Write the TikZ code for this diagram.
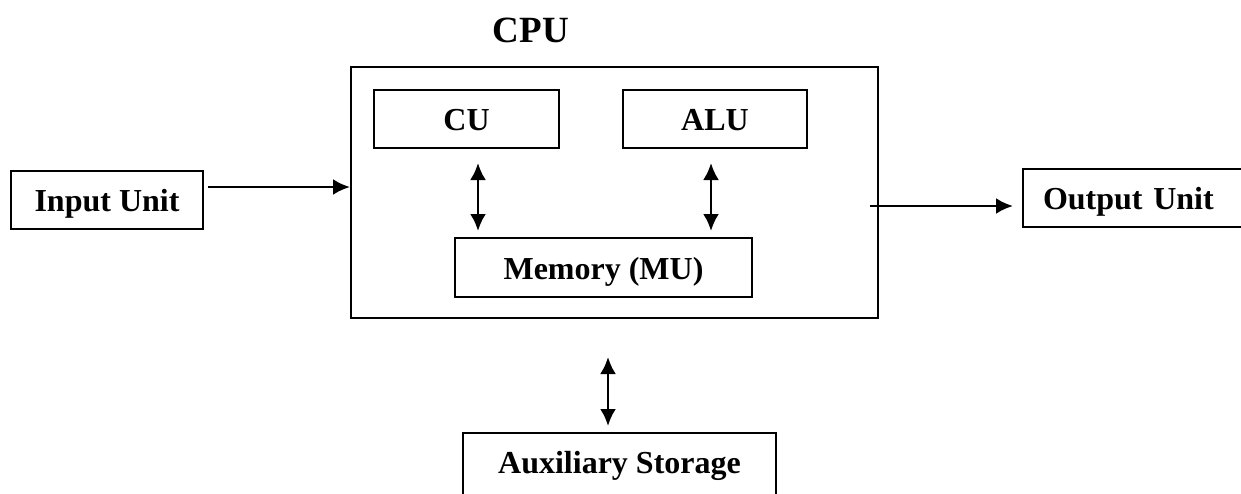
\documentclass[tikz,border=0pt]{standalone}
\usepackage{fontspec}
\setmainfont{Liberation Serif}
\usetikzlibrary{arrows.meta,calc}
\begin{document}
\begin{tikzpicture}[x=0.5pt,y=-0.5pt,
  box/.style={draw,line width=1pt,font=\bfseries\fontsize{16}{19}\selectfont,inner sep=0pt,minimum height=29pt,text height=12pt,text depth=0.4pt},
  tip/.style={},
  arr/.style={line width=1.4pt,-{Latex[length=8.5pt,width=8pt]}},
  dbl/.style={line width=1.4pt,{Latex[length=8.5pt,width=8pt]}-{Latex[length=8.5pt,width=8pt]}}]
\useasboundingbox (0,0) rectangle (1241,493);
\clip (0,0) rectangle (1241,493);
\node[box,minimum width=96pt] (in) at (107,200) {Input Unit};
\node[draw,line width=1pt,minimum width=263.5pt,minimum height=125.5pt,inner sep=0pt] (cpu) at (614.5,192.5) {};
\node[font=\bfseries\fontsize{18.5}{22}\selectfont,inner sep=0pt] (cpulbl) at (531,30) {CPU};
\node[box,minimum width=92.5pt] (cu) at (466.5,119) {CU};
\node[box,minimum width=92pt] (alu) at (715,119) {ALU};
\node[box,minimum width=148.5pt,minimum height=29.5pt] (mem) at (603.5,267.5) {Memory (MU)};
\node[box,anchor=west,inner xsep=10pt,text width=94pt,align=left] (out) at (1022,198) {Output Unit};
\node[box,minimum width=156.5pt,minimum height=33pt,text height=11pt,text depth=3.4pt] (aux) at (619.5,466) {Auxiliary Storage};
\coordinate (a1) at ($(in.east)+(4,-13)$);
\draw[arr] (a1) -- (a1 -| cpu.west);
\coordinate (o1) at ($(cpu.east |- out.west)+(-9,8)$);
\draw[arr,shorten >=4.5pt] (o1) -- (o1 -| out.west);
\coordinate (c1) at ($(cu.south)+(11.5,14)$);
\draw[dbl,shorten >=3pt] (c1) -- (c1 |- mem.north);
\coordinate (c2) at ($(alu.south)+(-4,14)$);
\draw[dbl,shorten >=3pt] (c2) -- (c2 |- mem.north);
\coordinate (c3) at ($(cpu.south)+(-6.5,38)$);
\draw[dbl,shorten >=3pt] (c3) -- (c3 |- aux.north);
\end{tikzpicture}
\end{document}
